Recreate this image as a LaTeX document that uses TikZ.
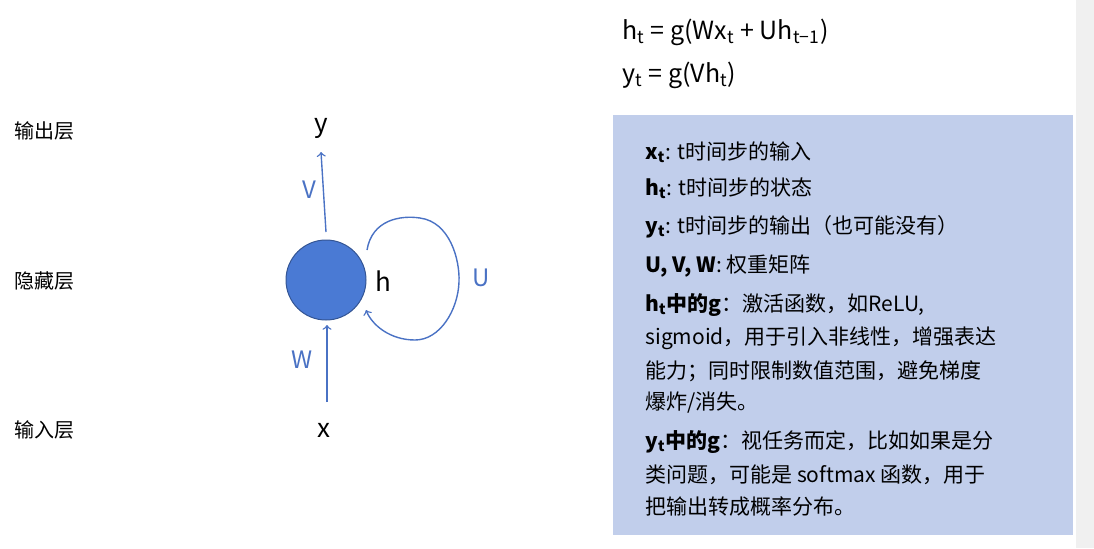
\documentclass[tikz,border=0pt]{standalone}
\usepackage{fontspec}
\setmainfont{Noto Sans CJK SC}
\begin{document}
\begin{tikzpicture}[x=0.5pt,y=-0.5pt,
  lbl/.style={anchor=west,inner sep=0pt,font=\fontsize{10}{12}\selectfont},
  bx/.style={anchor=west,inner sep=0pt,font=\fontsize{10.5}{12}\selectfont},
  eq/.style={anchor=west,inner sep=0pt,font=\fontsize{12.5}{14}\selectfont},
  bl/.style={draw=wblue,line width=0.7pt},
  wl/.style={inner sep=0pt,text=wblue,font=\fontsize{12}{14}\selectfont},
  var/.style={inner sep=0pt,font=\fontsize{13}{14}\selectfont}]
\definecolor{wblue}{HTML}{4A72C4}
\definecolor{boxc}{HTML}{C1CEEB}
\definecolor{circ}{HTML}{4A7AD4}
\useasboundingbox (0,0) rectangle (1094,548);
\fill[gray!12] (1076,0) rectangle (1094,548);
% equations
\node[eq] (e1) at (622,32) {h\textsubscript{t} = g(Wx\textsubscript{t} + Uh\textsubscript{t−1})};
\node[eq] (e2) at (622,75) {y\textsubscript{t} = g(Vh\textsubscript{t})};
% layer labels
\node[lbl] (l1) at (14,131) {输出层};
\node[lbl] (l2) at (14,281) {隐藏层};
\node[lbl] (l3) at (14,430) {输入层};
% network
\node[circle,fill=circ,draw=circ!70!black,line width=0.5pt,minimum size=80pt*0.5,inner sep=0pt] (h) at (326,280) {};
\node[var] (y) at (321,128) {y};
\node[var] (x) at (324,430) {x};
\node[var] (hl) at (383,281) {h};
\coordinate (vs) at (326,232);
\coordinate (ws) at (327,402);
\draw[bl,->] (vs) -- (y.south |- 0,152);
\draw[bl,->] (ws) -- (327,325);
\node[wl] (V) at (309,190) {V};
\node[wl] (W) at (302,360) {W};
\node[wl] (U) at (481,278) {U};
\coordinate (la) at (367,250);
\coordinate (lb) at (366,310);
\draw[bl,->] (la) .. controls (372,220) and (400,215) .. (420,218)
  .. controls (450,222) and (460,260) .. (459,282)
  .. controls (458,310) and (440,340) .. (415,340)
  .. controls (390,340) and (372,325) .. (lb);
% box
\fill[boxc] (613,115) rectangle (1073,535);
\node[bx] at (645,152) {\textbf{x\textsubscript{t}}: t时间步的输入};
\node[bx] at (645,188) {\textbf{h\textsubscript{t}}: t时间步的状态};
\node[bx] at (645,227) {\textbf{y\textsubscript{t}}: t时间步的输出（也可能没有）};
\node[bx] at (645,266) {\textbf{U, V, W}: 权重矩阵};
\node[bx] at (645,305) {\textbf{h\textsubscript{t}中的g}：激活函数，如ReLU,};
\node[bx] at (645,338) {sigmoid，用于引入非线性，增强表达};
\node[bx] at (645,371) {能力；同时限制数值范围，避免梯度};
\node[bx] at (645,403) {爆炸/消失。};
\node[bx] at (645,442) {\textbf{y\textsubscript{t}中的g}：视任务而定，比如如果是分};
\node[bx] at (645,475) {类问题，可能是 softmax 函数，用于};
\node[bx] at (645,507) {把输出转成概率分布。};
\end{tikzpicture}
\end{document}
